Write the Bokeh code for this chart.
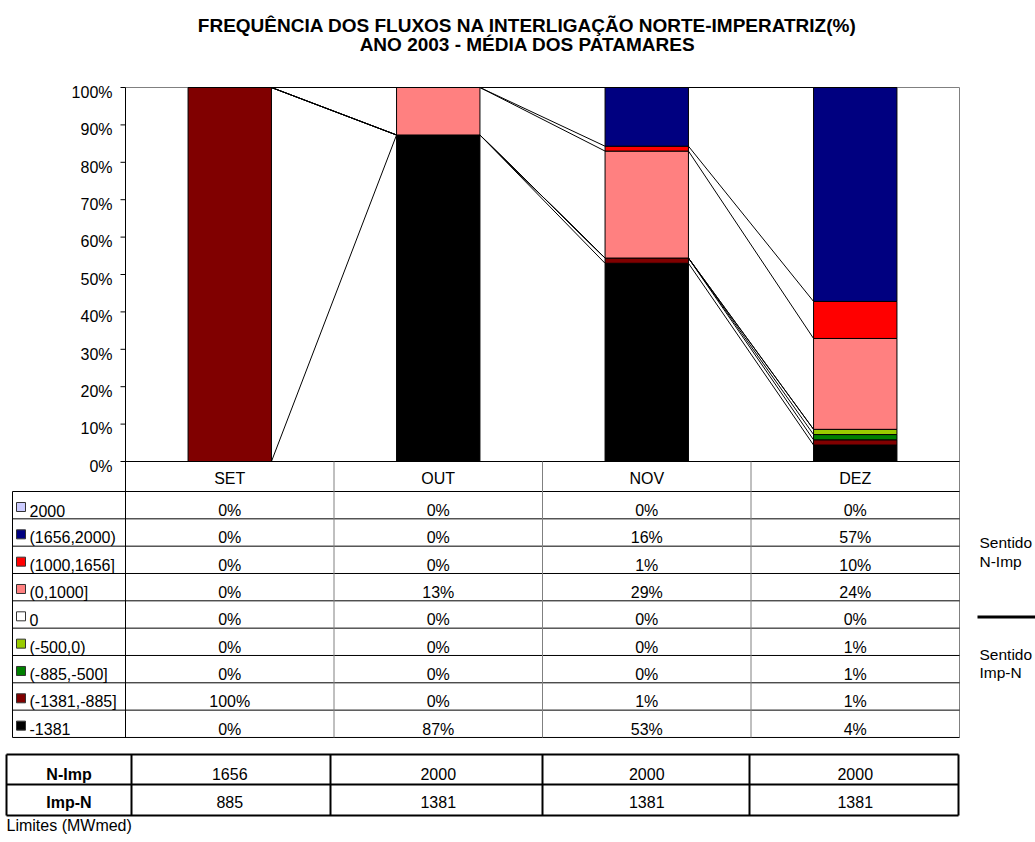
from bokeh.plotting import figure
from bokeh.models import Range1d
from bokeh.core.properties import value
from bokeh.embed import file_html
from bokeh.resources import INLINE

# ---------------- data ----------------
months = ["SET", "OUT", "NOV", "DEZ"]

# table order (top -> bottom)
series_labels = ["2000", "(1656,2000)", "(1000,1656]", "(0,1000]", "0",
                 "(-500,0)", "(-885,-500]", "(-1381,-885]", "-1381"]
series_colors = ["#CCCCFF", "#000080", "#FF0000", "#FF8080", "#FFFFFF",
                 "#99CC00", "#008000", "#800000", "#000000"]

s_2000 = [0, 0, 0, 0]
s_1656_2000 = [0, 0, 15.7, 57.2]
s_1000_1656 = [0, 0, 1.3, 9.9]
s_0_1000 = [0, 12.7, 28.6, 24.3]
s_0 = [0, 0, 0, 0]
s_m500_0 = [0, 0, 0, 1.4]
s_m885_m500 = [0, 0, 0, 1.4]
s_m1381_m885 = [100, 0, 1.4, 1.4]
s_m1381 = [0, 87.3, 53.0, 4.4]

series_values = [s_2000, s_1656_2000, s_1000_1656, s_0_1000, s_0,
                 s_m500_0, s_m885_m500, s_m1381_m885, s_m1381]

lim_rows = ["N-Imp", "Imp-N"]
lim_n_imp = [1656, 2000, 2000, 2000]
lim_imp_n = [885, 1381, 1381, 1381]

y_ticks = list(range(0, 101, 10))

TITLE1 = "FREQUÊNCIA DOS FLUXOS NA INTERLIGAÇÃO NORTE-IMPERATRIZ(%)"
TITLE2 = "ANO 2003 - MÉDIA DOS PATAMARES"

# ---------------- layout helpers (page pixel -> data) ----------------
SX = 208.5   # px per category
SY = 3.74    # px per percent
X0, Y0 = 125, 461
TADJ = 5     # text baseline correction (px)


def X(px):
    return (px - X0) / SX


def Y(py):
    return (Y0 - py) / SY


def TY(py):
    return Y(py - TADJ)


FONT = value("Liberation Sans")
FS = value("16px")
BAR_W = 0.4

p = figure(width=1035, height=842, output_backend="svg", toolbar_location=None,
           x_range=Range1d(X(0), X(1035)), y_range=Range1d(Y(842), Y(0)),
           min_border=0, x_axis_type=None, y_axis_type=None)
p.grid.visible = False
p.outline_line_color = None
p.background_fill_color = "white"
p.border_fill_color = "white"

# ---------------- title ----------------
p.text(x=[X(527), X(527)], y=[TY(30), TY(49)], text=[TITLE1, TITLE2],
       text_font=FONT, text_font_size=value("19px"), text_font_style="bold",
       text_align="center", text_baseline="alphabetic", text_color="black")

# ---------------- stacked bars ----------------
bottom_up = list(range(len(series_values)))[::-1]   # indices bottom -> top
cum = [[0.0] * len(months)]
bx, bb, bt, bc = [], [], [], []
for k in bottom_up:
    prev = cum[-1]
    new = [prev[i] + series_values[k][i] for i in range(len(months))]
    for i in range(len(months)):
        if series_values[k][i] > 0:
            bx.append(i + 0.5)
            bb.append(prev[i])
            bt.append(new[i])
            bc.append(series_colors[k])
    cum.append(new)

# plot area frame (top/right gray)
p.segment(x0=[0, 4], y0=[100, 100], x1=[4, 4], y1=[100, Y(737)],
          line_color="#808080", line_width=1)

p.vbar(x=bx, bottom=bb, top=bt, width=BAR_W, fill_color=bc,
       line_color="black", line_width=1)

# series lines between adjacent bars
sx0, sy0, sx1, sy1 = [], [], [], []
for level in cum[1:]:
    for i in range(len(months) - 1):
        sx0.append(i + 0.5 + BAR_W / 2)
        sy0.append(level[i])
        sx1.append(i + 1.5 - BAR_W / 2)
        sy1.append(level[i + 1])
p.segment(x0=sx0, y0=sy0, x1=sx1, y1=sy1, line_color="black", line_width=1)

# ---------------- y axis ----------------
p.segment(x0=[X(120)] * len(y_ticks), y0=y_ticks, x1=[0] * len(y_ticks),
          y1=y_ticks, line_color="black", line_width=1)
p.text(x=[X(112)] * len(y_ticks), y=[t - (9.7 - TADJ) / SY for t in y_ticks],
       text=[f"{t}%" for t in y_ticks], text_font=FONT, text_font_size=FS,
       text_align="right", text_baseline="alphabetic", text_color="black")

# ---------------- data table ----------------
ROW_TOP = 491
ROW_H = 27.33
n_rows = len(series_labels)
row_tops = [ROW_TOP + r * ROW_H for r in range(n_rows + 1)]

# horizontal lines
p.segment(x0=[0], y0=[0], x1=[4], y1=[0], line_color="black", line_width=1)
p.segment(x0=[X(12)] * len(row_tops), y0=[Y(t) for t in row_tops],
          x1=[4] * len(row_tops), y1=[Y(t) for t in row_tops],
          line_color="black", line_width=1)
# vertical lines
p.segment(x0=[1, 2, 3], y0=[0] * 3, x1=[1, 2, 3], y1=[Y(row_tops[-1])] * 3,
          line_color="#808080", line_width=1)
p.segment(x0=[0, X(12)], y0=[100, Y(ROW_TOP)], x1=[0, X(12)],
          y1=[Y(row_tops[-1])] * 2, line_color="black", line_width=1)

# header
p.text(x=[i + 0.5 for i in range(len(months))], y=[TY(483)] * len(months),
       text=months, text_font=FONT, text_font_size=FS, text_align="center",
       text_baseline="alphabetic", text_color="black")

# legend keys and labels
p.rect(x=[X(20.5)] * n_rows, y=[Y(t + 15.5) for t in row_tops[:-1]],
       width=9, height=9, width_units="screen", height_units="screen",
       fill_color=series_colors, line_color="#333333", line_width=1)
p.text(x=[X(29)] * n_rows, y=[TY(t + 24) for t in row_tops[:-1]],
       text=series_labels, text_font=FONT, text_font_size=FS,
       text_align="left", text_baseline="alphabetic", text_color="black")

tx, ty, tt = [], [], []
for r, vals in enumerate(series_values):
    for i, v in enumerate(vals):
        tx.append(i + 0.5)
        ty.append(TY(row_tops[r] + 24))
        tt.append(f"{round(v)}%")
p.text(x=tx, y=ty, text=tt, text_font=FONT, text_font_size=FS,
       text_align="center", text_baseline="alphabetic", text_color="black")

# ---------------- limits table ----------------
L_TOP, L_MID, L_BOT = 754, 784, 815
col_edges = [6, 131, 330, 542, 749, 958]
p.segment(x0=[X(6)] * 3, y0=[Y(L_TOP), Y(L_MID), Y(L_BOT)],
          x1=[X(958)] * 3, y1=[Y(L_TOP), Y(L_MID), Y(L_BOT)],
          line_color="black", line_width=2)
p.segment(x0=[X(c) for c in col_edges], y0=[Y(L_TOP)] * len(col_edges),
          x1=[X(c) for c in col_edges], y1=[Y(L_BOT)] * len(col_edges),
          line_color="black", line_width=2)
p.text(x=[X(68.5)] * 2, y=[TY(778.7), TY(806.7)], text=lim_rows,
       text_font=FONT, text_font_size=FS, text_font_style="bold",
       text_align="center", text_baseline="alphabetic", text_color="black")
lx, ly, lt = [], [], []
for vals, yb in ((lim_n_imp, 778.7), (lim_imp_n, 806.7)):
    for i, v in enumerate(vals):
        lx.append(i + 0.5)
        ly.append(TY(yb))
        lt.append(str(v))
p.text(x=lx, y=ly, text=lt, text_font=FONT, text_font_size=FS,
       text_align="center", text_baseline="alphabetic", text_color="black")

p.text(x=[X(6)], y=[TY(830)], text=["Limites (MWmed)"], text_font=FONT,
       text_font_size=FS, text_align="left", text_baseline="alphabetic",
       text_color="black")

# ---------------- side notes ----------------
p.text(x=[X(979), X(979), X(979), X(979)],
       y=[TY(547), TY(566), TY(659), TY(677)],
       text=["Sentido", "N-Imp", "Sentido", "Imp-N"], text_font=FONT,
       text_font_size=value("15.5px"), text_align="left",
       text_baseline="alphabetic", text_color="black")
p.segment(x0=[X(977)], y0=[Y(616.5)], x1=[X(1040)], y1=[Y(616.5)],
          line_color="black", line_width=3)

open("out.html", "w").write(file_html(p, INLINE))
